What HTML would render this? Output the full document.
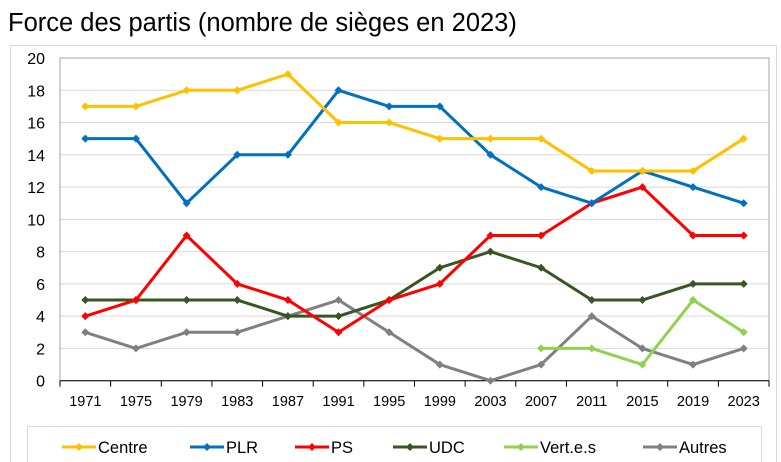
<!DOCTYPE html>
<html><head><meta charset="utf-8"><style>
body{margin:0;background:#fff;width:781px;height:462px;overflow:hidden}
svg{display:block;font-family:"Liberation Sans",sans-serif}
</style></head><body>
<svg id="c" width="781" height="462" xmlns="http://www.w3.org/2000/svg">
<rect x="0" y="0" width="781" height="462" fill="#fff"/>
<rect x="10.5" y="45.5" width="766" height="430" fill="none" stroke="#d9d9d9"/>
<text x="8" y="31" font-size="25.5" fill="#000">Force des partis (nombre de sièges en 2023)</text>
<rect x="27.5" y="426.5" width="734" height="50" fill="#fff" stroke="#d9d9d9"/>
</svg>
<script>
const s=document.getElementById('c'),NS='http://www.w3.org/2000/svg';
function el(t,a,txt){const e=document.createElementNS(NS,t);for(const k in a)e.setAttribute(k,a[k]);if(txt!=null)e.textContent=txt;s.appendChild(e);return e;}
const L=60,R=769,T=58,B=380.7,n=14,cw=(R-L)/n;
const Y=v=>B-(B-T)*v/20,X=i=>L+cw*(i+0.5);
for(let v=0;v<=20;v+=2){const y=Y(v);if(v>0)el('line',{x1:L,x2:R,y1:y,y2:y,stroke:'#d9d9d9'});
el('text',{x:45,y:y+6,'font-size':16,'text-anchor':'end'},v);}
el('rect',{x:L,y:T,width:R-L,height:B-T,fill:'none',stroke:'#a6a6a6'});
el('line',{x1:L,x2:R,y1:B,y2:B,stroke:'#000'});
const yrs=[1971,1975,1979,1983,1987,1991,1995,1999,2003,2007,2011,2015,2019,2023];
for(let i=0;i<=n;i++){const x=L+cw*i;el('line',{x1:x,x2:x,y1:B,y2:B+6,stroke:'#000'});}
yrs.forEach((y,i)=>el('text',{x:X(i),y:406,'font-size':14.5,'text-anchor':'middle'},y));
const S=[
['Centre','#FFC000',[17,17,18,18,19,16,16,15,15,15,13,13,13,15]],
['PLR','#0070C0',[15,15,11,14,14,18,17,17,14,12,11,13,12,11]],
['PS','#FF0000',[4,5,9,6,5,3,5,6,9,9,11,12,9,9]],
['UDC','#375623',[5,5,5,5,4,4,5,7,8,7,5,5,6,6]],
['Vert.e.s','#92D050',[null,null,null,null,null,null,null,null,null,2,2,1,5,3]],
['Autres','#808080',[3,2,3,3,4,5,3,1,0,1,4,2,1,2]]];
function dia(x,y,c){el('path',{d:`M${x-4} ${y}L${x} ${y-4}L${x+4} ${y}L${x} ${y+4}Z`,fill:c});}
[5,4,3,2,1,0].forEach(k=>{const [nm,c,d]=S[k];let p='';d.forEach((v,i)=>{if(v!=null)p+=(p?'L':'M')+X(i)+' '+Y(v);});
el('path',{d:p,fill:'none',stroke:c,'stroke-width':3,'stroke-linejoin':'round'});
d.forEach((v,i)=>{if(v!=null)dia(X(i),Y(v),c);});});
const lx=[62,190,295,393,504,643];
S.forEach(([nm,c],k)=>{const x=lx[k];el('line',{x1:x,x2:x+34,y1:447,y2:447,stroke:c,'stroke-width':3});dia(x+17,447,c);
el('text',{x:x+36,y:453,'font-size':16.5},nm);});
</script>
</body></html>
